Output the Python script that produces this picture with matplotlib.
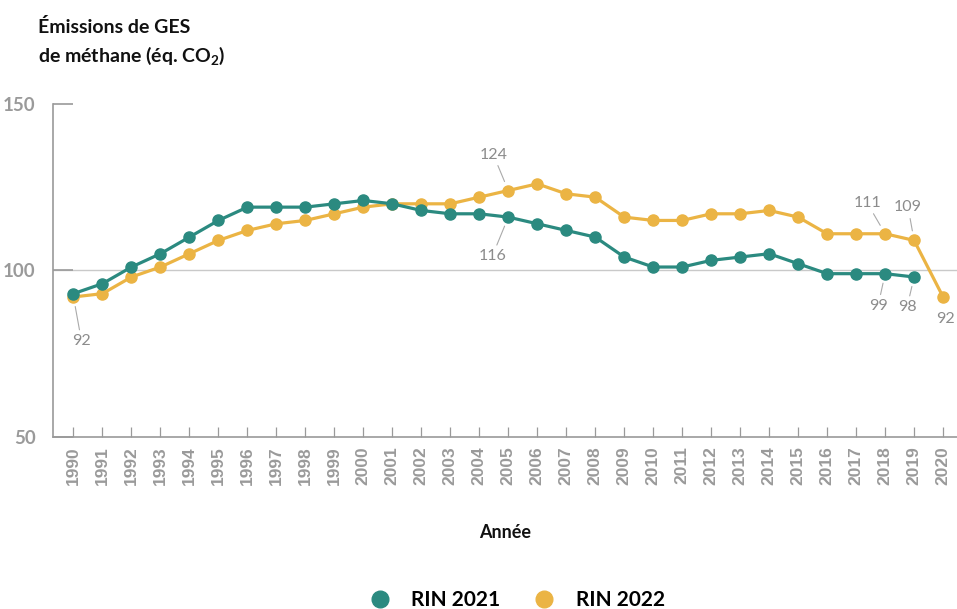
import matplotlib
matplotlib.use("Agg")
import matplotlib.pyplot as plt
from matplotlib.lines import Line2D

# Emissions series, one value per year
years = list(range(1990, 2021))
rin_2021 = [93, 96, 101, 105, 110, 115, 119, 119, 119, 120, 121, 120, 118, 117, 117,
            116, 114, 112, 110, 104, 101, 101, 103, 104, 105, 102, 99, 99, 99, 98]
rin_2022 = [92, 93, 98, 101, 105, 109, 112, 114, 115, 117, 119, 120, 120, 120, 122,
            124, 126, 123, 122, 116, 115, 115, 117, 117, 118, 116, 111, 111, 111, 109, 92]
series_names = ["RIN 2021", "RIN 2022"]
y_ticks = [50, 100, 150]

TEAL = "#2b8a80"
GOLD = "#ebb444"
GRAY = "#9a9a9a"

plt.rcParams["font.family"] = ["Lato", "DejaVu Sans"]
plt.rcParams["mathtext.fontset"] = "custom"
plt.rcParams["mathtext.rm"] = "Lato:bold"
plt.rcParams["mathtext.bf"] = "Lato:bold"

fig = plt.figure(figsize=(9.57, 6.09), dpi=100)
ax = fig.add_axes([52.5 / 957, 1 - 436.7 / 609, (957 - 52.5) / 957, (436.7 - 104) / 609])

ax.axhline(100, color="#c9c9c9", lw=1, zorder=1)

ax.plot(years[:len(rin_2021)], rin_2021, color=TEAL, lw=2.3, marker="o", ms=8,
        zorder=3, solid_joinstyle="round")
ax.plot(years, rin_2022, color=GOLD, lw=2.3, marker="o", ms=8,
        zorder=2, solid_joinstyle="round")

ax.set_xlim(1989.276, 2020.48)
ax.set_ylim(50, 150)
ax.set_yticks(y_ticks)
ax.set_xticks(years)
ax.set_xticklabels([str(y) for y in years], rotation=90, fontsize=12.5,
                   fontweight="bold", color=GRAY, family="Liberation Sans")
ax.set_yticklabels([str(v) for v in y_ticks], fontsize=13.5, fontweight="bold", color=GRAY)
ax.tick_params(axis="y", direction="in", length=14.5, width=1.2, color=GRAY, pad=12)
ax.tick_params(axis="x", direction="in", length=7.5, width=0.9, color=GRAY, pad=7)

for side in ["top", "right"]:
    ax.spines[side].set_visible(False)
for side in ["left", "bottom"]:
    ax.spines[side].set_color(GRAY)
    ax.spines[side].set_linewidth(1.2)

# value callouts: (series, year, dx, dy in pixels, leader line)
callouts = [
    (rin_2022, 1990, 8, -44, True),
    (rin_2022, 2005, -15, 36, True),
    (rin_2021, 2005, -16, -39, True),
    (rin_2022, 2018, -18, 31, True),
    (rin_2022, 2019, -6, 33, True),
    (rin_2021, 2018, -7, -32, True),
    (rin_2021, 2019, -7, -30, True),
    (rin_2022, 2020, 2, -22, False),
]
for values, year, dx, dy, leader in callouts:
    v = values[year - years[0]]
    arrow = dict(arrowstyle="-", color="#aaaaaa", lw=0.8, shrinkA=1, shrinkB=7) if leader else None
    ax.annotate(str(v), xy=(year, v), xytext=(dx, dy), textcoords="offset pixels",
                ha="center", va="center", fontsize=11.5, color="#8c8c8c",
                arrowprops=arrow, zorder=4)

fig.text(38 / 957, 1 - 33 / 609, "Émissions de GES", fontsize=14, fontweight="bold",
         color="#111111", va="baseline")
fig.text(38 / 957, 1 - 62 / 609, r"de méthane (éq. CO$_{\mathbf{2}}$)", fontsize=14,
         fontweight="bold", color="#111111", va="baseline")

ax.set_xlabel("Année", fontsize=13, fontweight="bold", color="#111111", labelpad=28)

handles = [Line2D([], [], ls="none", marker="o", ms=12, color=c) for c in (TEAL, GOLD)]
fig.legend(handles, series_names, loc="center", bbox_to_anchor=(0.535, 1 - 600 / 609),
           ncol=2, frameon=False, handletextpad=0.5, columnspacing=1.1,
           prop={"size": 15, "weight": "bold"})

fig.savefig("out.png", dpi=100)
